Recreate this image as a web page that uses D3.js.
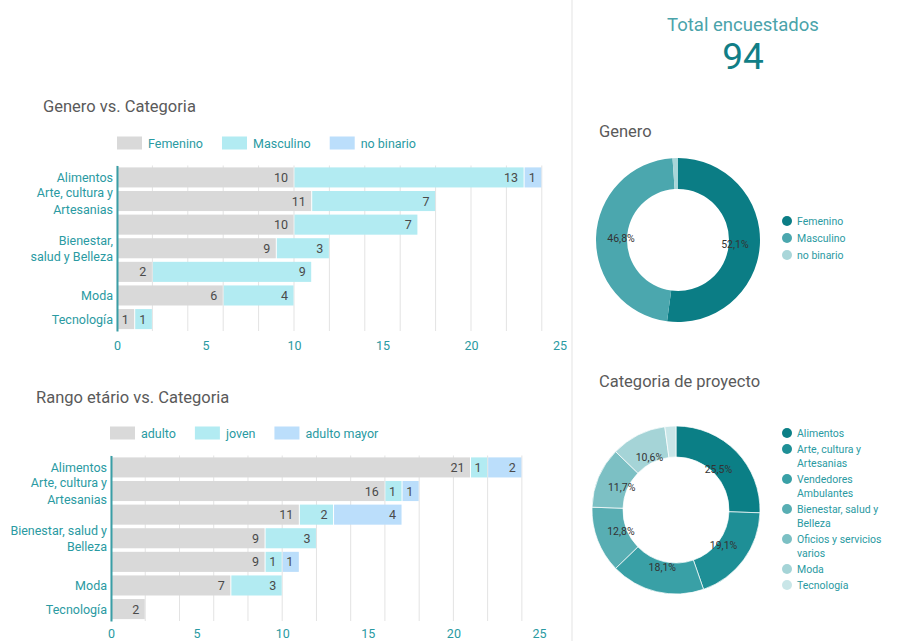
<!DOCTYPE html>
<html>
<head>
<meta charset="utf-8">
<script src="https://cdn.jsdelivr.net/npm/d3@7"></script>
<style>
  html, body { margin:0; padding:0; background:#fff; }
  svg { display:block; font-family: Roboto, "Noto Sans", sans-serif; }
</style>
</head>
<body>
<svg id="chart" width="898" height="641"></svg>
<script>
// survey dashboard -- two stacked bars on the left, two donuts on the right

const CATEGORIES = ["Alimentos","Arte, cultura y Artesanias","Vendedores Ambulantes",
  "Bienestar, salud y Belleza","Oficios y servicios varios","Moda","Tecnología"];

// tick labels as they show on each bar chart (empty = hidden label)
const GEN_TICK_LINES = [["Alimentos"],["Arte, cultura y","Artesanias"],[],["Bienestar,","salud y Belleza"],[],["Moda"],["Tecnología"]];
const AGE_TICK_LINES = [["Alimentos"],["Arte, cultura y","Artesanias"],[],["Bienestar, salud y","Belleza"],[],["Moda"],["Tecnología"]];

const FEMENINO     = [10,11,10,9,2,6,1];
const MASCULINO    = [13, 7, 7,3,9,4,1];
const NO_BINARIO   = [ 1, 0, 0,0,0,0,0];

const ADULTO       = [21,16,11,9,9,7,2];
const JOVEN        = [ 1, 1, 2,3,1,3,0];
const ADULTO_MAYOR = [ 2, 1, 4,0,1,0,0];

const X_TICKS = [0,5,10,15,20,25];

const TOTAL = 94;

const GENDER_LABELS = ["Femenino","Masculino","no binario"];
const GENDER_TOTALS = [49,44,1];

const CAT_LEGEND_LINES = [["Alimentos"],["Arte, cultura y","Artesanias"],["Vendedores","Ambulantes"],
  ["Bienestar, salud y","Belleza"],["Oficios y servicios","varios"],["Moda"],["Tecnología"]];
const CAT_TOTALS = [24,18,17,12,11,10,2];

const BAR_COLORS = ["#d9d9d9","#b2ebf2","#bbdefb"];
const GENDER_COLORS = ["#0b7d85","#4ba7ae","#a9d6d9"];
const CAT_COLORS = ["#0b7f86","#1e8f96","#39a0a6","#58aeb3","#7cc0c4","#a5d4d7","#c9e6e8"];

const TEAL_TEXT = "#2a9aa2";
const TITLE = "#5a5a5a";

const svg = d3.select("#chart");

// panel divider
svg.append("line").attr("x1",572).attr("x2",572).attr("y1",0).attr("y2",641)
  .attr("stroke","#ededed").attr("stroke-width",1.5);

function barChart(cfg){
  const g = svg.append("g");
  const rows = CATEGORIES.map((c,i)=>{
    const r = {cat:c};
    cfg.keys.forEach((k,j)=>r[k]=cfg.series[j][i]);
    return r;
  });

  const x = d3.scaleLinear().domain([0,25]).range(cfg.xRange);
  const y = d3.scaleBand().domain(CATEGORIES).range(cfg.yRange).paddingInner(0.15).paddingOuter(0.08);

  g.append("text").attr("x",cfg.titleX).attr("y",cfg.titleY)
    .attr("fill",TITLE).style("font-size","16.5px").text(cfg.title);

  // gridlines every 2.5
  g.append("g").selectAll("line").data(x.ticks(10)).join("line")
    .attr("x1",d=>x(d)).attr("x2",d=>x(d))
    .attr("y1",cfg.yRange[0]).attr("y2",cfg.yRange[1])
    .attr("stroke","#e3e3e3").attr("stroke-width",1);

  const stack = d3.stack().keys(cfg.keys)(rows);

  const layer = g.append("g").selectAll("g").data(stack).join("g")
    .attr("fill",(d,i)=>BAR_COLORS[i]);

  layer.selectAll("rect").data(d=>d.filter(s=>s[1]>s[0])).join("rect")
    .attr("x",d=>x(d[0])+0.5)
    .attr("width",d=>Math.max(0,x(d[1])-x(d[0])-1))
    .attr("y",d=>y(d.data.cat)).attr("height",y.bandwidth());

  layer.selectAll("text").data(d=>d.filter(s=>s[1]>s[0])).join("text")
    .attr("x",d=>x(d[1])-6)
    .attr("y",d=>y(d.data.cat)+y.bandwidth()/2)
    .attr("dy","0.36em").attr("text-anchor","end")
    .attr("fill","#4a4a4a").style("font-size","12.5px")
    .text(d=>d[1]-d[0]);

  // x axis labels
  g.append("g").attr("transform",`translate(0,${cfg.xAxisY})`)
    .call(d3.axisBottom(x).tickValues(X_TICKS).tickSize(0).tickPadding(0))
    .call(a=>a.select(".domain").remove())
    .call(a=>a.selectAll("text").attr("fill",TEAL_TEXT).attr("dy","0.36em")
      .style("font-family","Roboto").style("font-size","12.5px"));

  // y axis with wrapped labels
  const ya = g.append("g").attr("transform",`translate(${cfg.xRange[0]},0)`)
    .call(d3.axisLeft(y).tickSize(0).tickSizeOuter(0).tickPadding(4))
    .call(a=>a.select(".domain").attr("stroke","#3a9ea6").attr("stroke-width",2));
  ya.selectAll(".tick text").each(function(d,i){
    const t = d3.select(this).text(null).attr("fill",TEAL_TEXT)
      .style("font-family","Roboto").style("font-size","12.5px").attr("dy",null);
    const lines = cfg.tickLines[i];
    const lh = 16.5;
    lines.forEach((ln,k)=>{
      t.append("tspan").attr("x",-4)
        .attr("y",(k-(lines.length-1)/2)*lh).attr("dy","0.36em").text(ln);
    });
  });

  // legend
  const lg = g.append("g").attr("transform",`translate(${cfg.legendX},${cfg.legendY})`);
  let lx = 0;
  cfg.keys.forEach((k,i)=>{
    lg.append("rect").attr("x",lx).attr("y",-6.5).attr("width",25).attr("height",13)
      .attr("fill",BAR_COLORS[i]);
    const t = lg.append("text").attr("x",lx+31).attr("dy","0.36em")
      .attr("fill",TEAL_TEXT).style("font-size","12.5px").text(k);
    lx += 31 + t.node().getComputedTextLength() + 19;
  });
}

barChart({
  title:"Genero vs. Categoria", titleX:43, titleY:112,
  keys:GENDER_LABELS, series:[FEMENINO,MASCULINO,NO_BINARIO],
  tickLines:GEN_TICK_LINES,
  xRange:[117,559.5], yRange:[165.5,331], xAxisY:345,
  legendX:117, legendY:143
});

barChart({
  title:"Rango etário vs. Categoria", titleX:36, titleY:403,
  keys:["adulto","joven","adulto mayor"], series:[ADULTO,JOVEN,ADULTO_MAYOR],
  tickLines:AGE_TICK_LINES,
  xRange:[111,539], yRange:[455.5,621], xAxisY:633,
  legendX:110, legendY:433
});

// total card
svg.append("text").attr("x",743).attr("y",24).attr("dy","0.36em").attr("text-anchor","middle")
  .attr("fill","#4aa3aa").style("font-size","18.5px").text("Total encuestados");
svg.append("text").attr("x",743).attr("y",56).attr("dy","0.36em").attr("text-anchor","middle")
  .attr("fill","#117e86").style("font-size","37px").text(TOTAL);

function donut(cfg){
  const g = svg.append("g");
  g.append("text").attr("x",599).attr("y",cfg.titleY).attr("dy","0.36em")
    .attr("fill",TITLE).style("font-size","16.5px").text(cfg.title);

  const pie = d3.pie().sort(null).value(d=>d)(cfg.values);
  const total = d3.sum(cfg.values);
  const arc = d3.arc().innerRadius(cfg.r0).outerRadius(cfg.r1);
  const lab = d3.arc().innerRadius(cfg.rl).outerRadius(cfg.rl);

  const c = g.append("g").attr("transform",`translate(${cfg.cx},${cfg.cy})`);
  c.selectAll("path").data(pie).join("path")
    .attr("d",arc).attr("fill",(d,i)=>cfg.colors[i])
    .attr("stroke","#fff").attr("stroke-width",cfg.sep);

  c.selectAll("text").data(pie.filter(d=>d.value/total>0.05)).join("text")
    .attr("transform",d=>`translate(${lab.centroid(d)})`)
    .attr("text-anchor","middle").attr("dy","0.36em")
    .attr("fill","#333").style("font-size","10.5px")
    .text(d=>(d.value/total*100).toFixed(1).replace(".",",")+"%");

  const lg = g.append("g");
  let ly = cfg.legendY;
  cfg.legend.forEach((lines,i)=>{
    lg.append("circle").attr("cx",787).attr("cy",ly).attr("r",5).attr("fill",cfg.colors[i]);
    const t = lg.append("text").attr("fill",TEAL_TEXT).style("font-size","10.5px");
    lines.forEach((ln,k)=>t.append("tspan").attr("x",797).attr("y",ly+k*14).attr("dy","0.36em").text(ln));
    ly += cfg.step + (lines.length-1)*14;
  });
}

donut({
  title:"Genero", titleY:131, values:GENDER_TOTALS, colors:GENDER_COLORS,
  cx:678, cy:240, r0:51, r1:82, rl:57, sep:0,
  legend:GENDER_LABELS.map(d=>[d]), legendY:221, step:17
});

donut({
  title:"Categoria de proyecto", titleY:381, values:CAT_TOTALS, colors:CAT_COLORS,
  cx:676, cy:510, r0:53, r1:84, rl:59, sep:0.7,
  legend:CAT_LEGEND_LINES, legendY:433, step:16
});
</script>
</body>
</html>
